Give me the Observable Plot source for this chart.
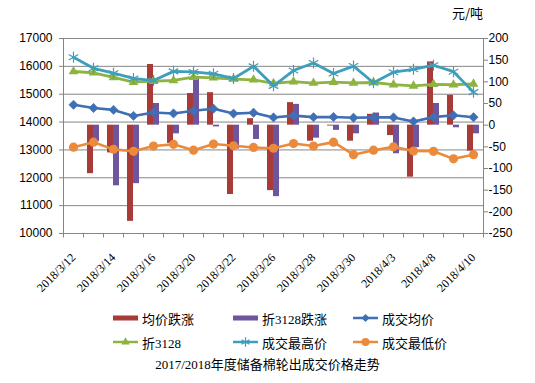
<!DOCTYPE html>
<html><head><meta charset="utf-8">
<script src="https://cdn.jsdelivr.net/npm/d3@7"></script>
<script src="https://cdn.jsdelivr.net/npm/@observablehq/plot@0.6"></script>
<style>
body{margin:0;background:#fff;}
#wrap{position:relative;width:535px;height:383px;overflow:hidden;font-family:"Liberation Sans",Arial,sans-serif;}
#wrap svg.layer{position:absolute;left:0;top:0;}
.unit{position:absolute;right:52px;top:3px;font-family:"Noto Sans CJK SC",sans-serif;font-size:13px;color:#000;}
.leg{position:absolute;display:flex;align-items:center;font-family:"Liberation Serif","Noto Sans CJK SC",serif;font-size:13px;color:#000;white-space:nowrap;height:14px;}
.leg svg{margin-right:3px;}
.title{position:absolute;left:0;width:535px;top:354px;text-align:center;font-family:"Liberation Serif","Noto Sans CJK SC",serif;font-size:13px;color:#000;}
</style></head><body><div id="wrap"></div>
<script>
// ---- data ----
const dates = ["2018/3/12","2018/3/13","2018/3/14","2018/3/15","2018/3/16","2018/3/19","2018/3/20","2018/3/21","2018/3/22","2018/3/23","2018/3/26","2018/3/27","2018/3/28","2018/3/29","2018/3/30","2018/4/2","2018/4/3","2018/4/4","2018/4/8","2018/4/9","2018/4/10"];
const labelDates = ["2018/3/12","2018/3/14","2018/3/16","2018/3/20","2018/3/22","2018/3/26","2018/3/28","2018/3/30","2018/4/3","2018/4/8","2018/4/10"];
const avgChange   = [null,-112,-64,-222,140,-42,73,75,-160,15,-151,52,-37,-2,-37,25,-24,-120,146,69,-60];
const d3128Change = [null,-38,-140,-135,50,-20,107,-4,-55,-33,-165,48,-30,-12,-20,28,-66,-52,50,-6,-20];
const avgPrice  = [14620,14505,14437,14221,14345,14310,14405,14480,14304,14335,14166,14232,14176,14182,14156,14169,14167,14022,14178,14242,14174];
const price3128 = [15816,15770,15605,15432,15470,15493,15612,15590,15545,15518,15390,15450,15400,15432,15405,15420,15345,15300,15355,15340,15370];
const maxPrice  = [16329,15930,15755,15565,15490,15820,15800,15733,15565,16000,15300,15850,16120,15745,16010,15410,15790,15895,16040,15810,15075];
const minPrice  = [13100,13278,13020,12950,13140,13200,12990,13210,13150,13090,13060,13230,13140,13280,12830,12990,13110,12960,12950,12680,12830];
const leftTicks  = [10000,11000,12000,13000,14000,15000,16000,17000];
const rightTicks = [-250,-200,-150,-100,-50,0,50,100,150,200];
const seriesNames = ["均价跌涨","折3128跌涨","成交均价","折3128","成交最高价","成交最低价"];

const C = {red:"#A83B37", purple:"#6F559E", blue:"#3F6FB5", green:"#8CB43F", teal:"#3E9EBB", orange:"#EB8A3A", grid:"#868686"};

const rows = dates.map((d,i)=>({date:d, avgChg:avgChange[i], d3128Chg:d3128Change[i], avg:avgPrice[i], p3128:price3128[i], max:maxPrice[i], min:minPrice[i]}));

const common = {width:535, height:300, marginTop:38, marginRight:52, marginBottom:67, marginLeft:63,
  className:"layer", style:{background:"transparent", fontFamily:"Liberation Sans, Arial, sans-serif", fontSize:"12px", color:"#000", overflow:"visible"}};

// layer 1: grid, left axis, x axis
const base = Plot.plot({...common,
  x:{type:"point", domain:dates, padding:0.5, axis:null},
  y:{domain:[10000,17000], axis:null},
  marks:[
    Plot.ruleY(leftTicks, {stroke:C.grid, strokeWidth:1}),
    Plot.ruleX([dates[0]], {y1:10000, y2:17000, dx:-10, stroke:C.grid}),
    Plot.ruleX([dates[dates.length-1]], {y1:10000, y2:17000, dx:10, stroke:C.grid}),
    Plot.ruleX(dates, {y1:10000, y2:9840, dx:-10, stroke:C.grid}),
    Plot.ruleX([dates[dates.length-1]], {y1:10000, y2:9840, dx:10, stroke:C.grid}),
    Plot.axisY({anchor:"left", ticks:leftTicks, tickSize:4, tickPadding:7, tickFormat:d=>String(d), stroke:C.grid, fill:"#000", fontSize:12, label:null}),
    Plot.axisX({anchor:"bottom", ticks:labelDates, tickSize:0, tickPadding:22, tickRotate:-45, fontFamily:"Liberation Serif, serif", fontSize:12, fill:"#000", label:null})
  ]});

// layer 2: bars on right axis
const bars = Plot.plot({...common,
  x:{type:"band", domain:dates, padding:0, axis:null},
  y:{domain:[-250,200], axis:null},
  marks:[
    Plot.barY(rows.filter(r=>r.avgChg!=null), {x:"date", y:"avgChg", fill:C.red, insetLeft:4, insetRight:10}),
    Plot.barY(rows.filter(r=>r.d3128Chg!=null), {x:"date", y:"d3128Chg", fill:C.purple, insetLeft:10, insetRight:4}),
    Plot.axisY({anchor:"right", ticks:rightTicks, tickSize:4, tickPadding:1, tickFormat:d=>String(d), stroke:C.grid, fill:"#000", fontSize:12, label:null})
  ]});

// layer 3: lines on left axis
const lines = Plot.plot({...common,
  x:{type:"point", domain:dates, padding:0.5, axis:null},
  y:{domain:[10000,17000], axis:null},
  marks:[
    Plot.line(rows, {x:"date", y:"avg", stroke:C.blue, strokeWidth:2.6}),
    Plot.dot(rows, {x:"date", y:"avg", symbol:"diamond2", r:4.2, fill:C.blue, stroke:C.blue, strokeWidth:0.5}),
    Plot.line(rows, {x:"date", y:"p3128", stroke:C.green, strokeWidth:2.8}),
    Plot.dot(rows, {x:"date", y:"p3128", symbol:"triangle", r:3.6, fill:C.green, stroke:"none"}),
    Plot.line(rows, {x:"date", y:"max", stroke:C.teal, strokeWidth:2.8}),
    Plot.dot(rows, {x:"date", y:"max", symbol:"asterisk", r:5.2, stroke:C.teal, strokeWidth:1.2, fill:"none"}),
    Plot.line(rows, {x:"date", y:"min", stroke:C.orange, strokeWidth:2.6}),
    Plot.dot(rows, {x:"date", y:"min", symbol:"circle", r:4.6, fill:C.orange, stroke:"none"})
  ]});

const wrap = document.getElementById("wrap");
[base, bars, lines].forEach(s=>{ s.classList.add("layer"); wrap.appendChild(s); });

const unit = document.createElement("div"); unit.className="unit"; unit.textContent="元/吨"; wrap.appendChild(unit);

// legend
function swatch(kind, color){
  const ns="http://www.w3.org/2000/svg";
  const svg=document.createElementNS(ns,"svg"); svg.setAttribute("width","26"); svg.setAttribute("height","12");
  if(kind==="bar"){
    const r=document.createElementNS(ns,"rect"); r.setAttribute("x","0"); r.setAttribute("y","3.5"); r.setAttribute("width","25"); r.setAttribute("height","5"); r.setAttribute("fill",color); svg.appendChild(r);
  } else {
    const l=document.createElementNS(ns,"line"); l.setAttribute("x1","0"); l.setAttribute("x2","25"); l.setAttribute("y1","6"); l.setAttribute("y2","6"); l.setAttribute("stroke",color); l.setAttribute("stroke-width","2.5"); svg.appendChild(l);
    const p=document.createElementNS(ns,"path");
    const sym={diamond:d3.symbolDiamond2, triangle:d3.symbolTriangle, asterisk:d3.symbolAsterisk, circle:d3.symbolCircle}[kind];
    const size={diamond:42, triangle:30, asterisk:60, circle:50}[kind];
    p.setAttribute("d", d3.symbol(sym, size)()); p.setAttribute("transform","translate(12.5,6)");
    if(kind==="asterisk"){p.setAttribute("stroke",color); p.setAttribute("fill","none"); p.setAttribute("stroke-width","1.2");}
    else {p.setAttribute("fill",color);}
    svg.appendChild(p);
  }
  return svg;
}
const legendItems = [
  {name:seriesNames[0], kind:"bar", color:C.red, x:113, y:311},
  {name:seriesNames[1], kind:"bar", color:C.purple, x:233, y:311},
  {name:seriesNames[2], kind:"diamond", color:C.blue, x:353, y:311},
  {name:seriesNames[3], kind:"triangle", color:C.green, x:113, y:335},
  {name:seriesNames[4], kind:"asterisk", color:C.teal, x:233, y:335},
  {name:seriesNames[5], kind:"circle", color:C.orange, x:353, y:335}
];
legendItems.forEach(it=>{
  const d=document.createElement("div"); d.className="leg"; d.style.left=it.x+"px"; d.style.top=it.y+"px";
  d.appendChild(swatch(it.kind, it.color));
  const s=document.createElement("span"); s.textContent=it.name; d.appendChild(s);
  wrap.appendChild(d);
});
const t=document.createElement("div"); t.className="title"; t.textContent="2017/2018年度储备棉轮出成交价格走势"; wrap.appendChild(t);
</script></body></html>
